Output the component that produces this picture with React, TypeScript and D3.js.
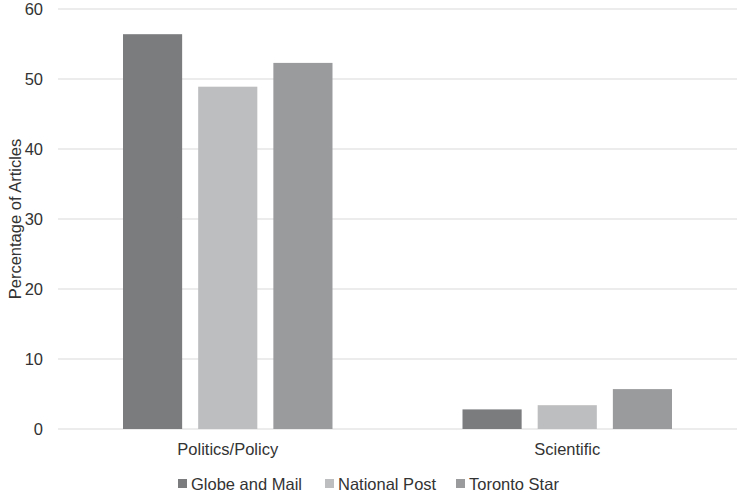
import React from "react";
import * as d3 from "d3";

const categories = ["Politics/Policy", "Scientific"];
const seriesNames = ["Globe and Mail", "National Post", "Toronto Star"];
const globeAndMail = [56.4, 2.8];
const nationalPost = [48.9, 3.4];
const torontoStar = [52.3, 5.7];
const yTicks = [0, 10, 20, 30, 40, 50, 60];
const colors = ["#7b7c7e", "#bdbebf", "#9a9b9d"];

const W = 739;
const H = 492;
const margin = { left: 58, right: 2, top: 9, bottom: 63 };
const legendX = [178, 325, 456];
const FS = 16.5;

export default function App() {
  const seriesValues = [globeAndMail, nationalPost, torontoStar];
  const x0 = d3
    .scaleBand<string>()
    .domain(categories)
    .range([margin.left, W - margin.right])
    .padding(0);
  const groupPad = 65;
  const x1 = d3
    .scaleBand<string>()
    .domain(seriesNames)
    .range([groupPad, x0.bandwidth() - groupPad])
    .paddingInner(16 / 75)
    .paddingOuter(0);
  const y = d3.scaleLinear().domain([0, 60]).range([H - margin.bottom, margin.top]);
  const font = "'Liberation Sans', Arial, sans-serif";

  return (
    <svg
      width={W}
      height={H}
      style={{ position: "absolute", left: 0, top: 0, background: "#fff" }}
      fontFamily={font}
    >
      {yTicks.map((t) => (
        <g key={t}>
          <line
            x1={margin.left}
            x2={W - margin.right}
            y1={y(t)}
            y2={y(t)}
            stroke="#d9d9d9"
            strokeWidth={1}
          />
          <text x={43} y={y(t) + 6} textAnchor="end" fontSize={FS} fill="#333">
            {t}
          </text>
        </g>
      ))}
      {categories.map((c, ci) => (
        <g key={c}>
          {seriesNames.map((s, si) => {
            const v = seriesValues[si][ci];
            return (
              <rect
                key={s}
                x={(x0(c) ?? 0) + (x1(s) ?? 0)}
                y={y(v)}
                width={x1.bandwidth()}
                height={y(0) - y(v)}
                fill={colors[si]}
              />
            );
          })}
          <text
            x={(x0(c) ?? 0) + x0.bandwidth() / 2}
            y={455}
            textAnchor="middle"
            fontSize={FS}
            fill="#333"
          >
            {c}
          </text>
        </g>
      ))}
      <text
        transform={`translate(20.5, ${(y(0) + y(60)) / 2}) rotate(-90)`}
        textAnchor="middle"
        fontSize={FS}
        fill="#333"
      >
        Percentage of Articles
      </text>
      {seriesNames.map((s, si) => (
        <g key={s} transform={`translate(${legendX[si]}, 0)`}>
          <rect x={0} y={479} width={9} height={9} fill={colors[si]} />
          <text x={13} y={490} fontSize={FS} fill="#333">
            {s}
          </text>
        </g>
      ))}
    </svg>
  );
}
